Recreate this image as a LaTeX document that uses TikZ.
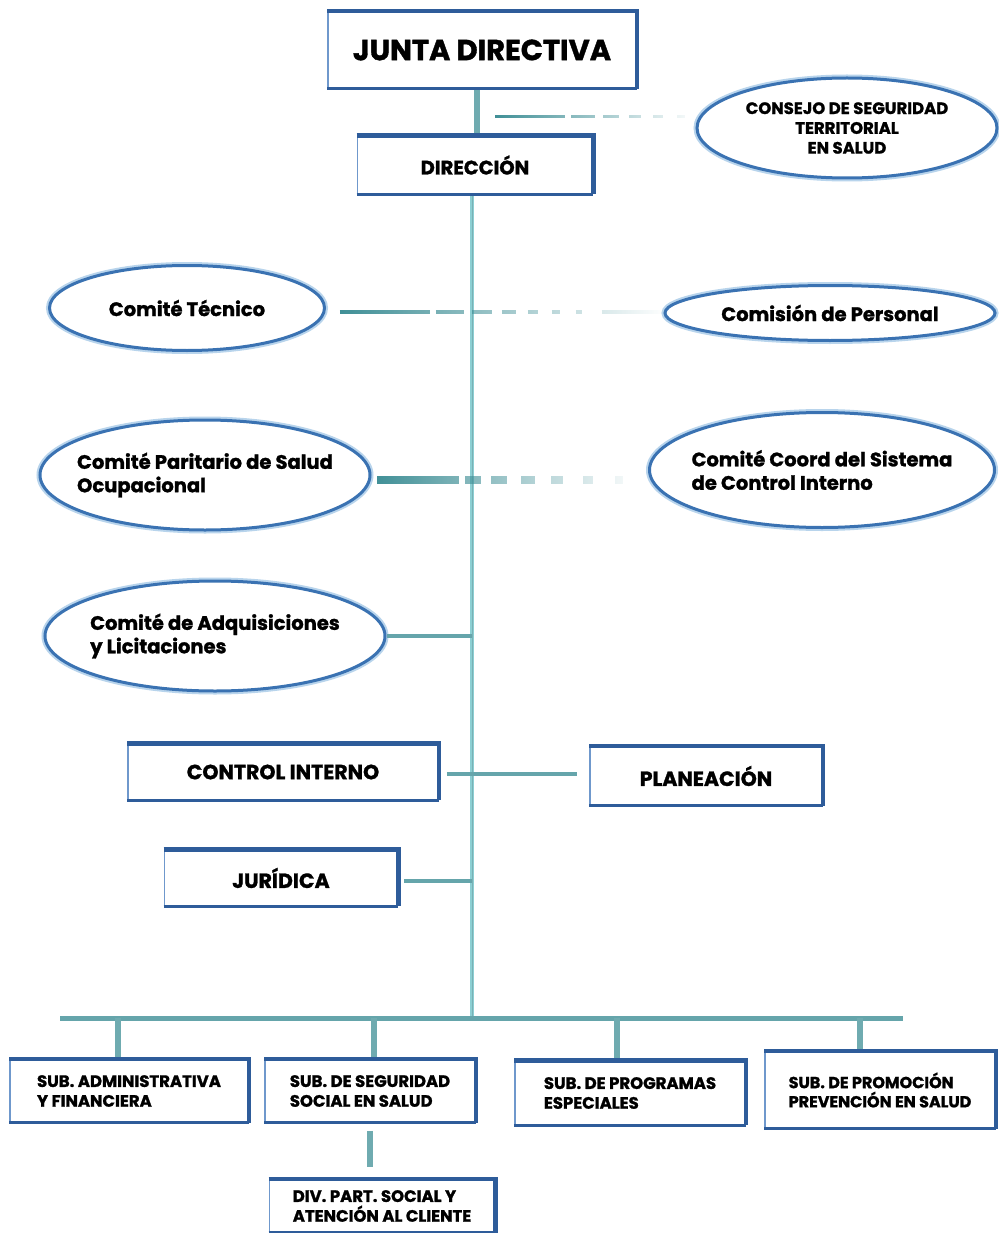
\documentclass[tikz,border=0pt]{standalone}
\usepackage{fontspec}
\setmainfont{Poppins}[BoldFeatures={FakeBold=1.3}]
\usetikzlibrary{shapes.geometric,fadings}
\definecolor{boxdark}{HTML}{2E5C9A}
\definecolor{boxlight}{HTML}{6F98CC}
\definecolor{ellblue}{HTML}{3A72B2}
\definecolor{ellhalo}{HTML}{B8D4EC}
\definecolor{linkteal}{HTML}{3F8F96}
\definecolor{linklight}{HTML}{8CCFD3}
\tikzset{
  x=1pt, y=-1pt,
  orgbox/.style={rectangle, draw=boxlight, line width=1.6pt, fill=white,
    inner sep=0pt, align=center, text=black},
  boxedge/.style={draw=boxdark, line width=4.5pt, line join=miter},
  boxbase/.style={draw=boxdark, line width=3pt},
  orgell/.style={ellipse, draw=ellblue, line width=3pt, fill=white,
    inner sep=0pt, preaction={draw=ellhalo, line width=7pt}},
  elltext/.style={inner sep=0pt, text=black},
  txt/.style={font=\bfseries\fontsize{#1pt}{\dimexpr #1pt*6/5\relax}\selectfont},
  trunk/.style={draw=linklight, line width=4pt},
  trunkcore/.style={draw=linkteal!70, line width=1pt},
  branch/.style={draw=linkteal!80, line width=4pt},
  drop/.style={draw=linkteal!75, line width=6pt},
  advisory/.style={draw=linkteal, line width=3.5pt, path fading=east,
    dash pattern=on 90pt off 6pt on 28pt off 8pt on 20pt off 10pt on 14pt off 12pt on 10pt off 14pt on 8pt off 16pt on 6pt off 20pt},
  advisorybold/.style={draw=linkteal, line width=8pt, path fading=east,
    dash pattern=on 82pt off 6pt on 16pt off 10pt on 16pt off 14pt on 14pt off 16pt on 12pt off 20pt on 10pt off 22pt on 8pt off 24pt}
}
\begin{document}
\begin{tikzpicture}
\useasboundingbox[fill=white] (0,0) rectangle (998,1233);

% main vertical line of the chart
\coordinate (trunktop) at (472,192);
\coordinate (bus) at (472,1018);
\draw[trunk] (trunktop) -- (bus);
\draw[trunkcore] (trunktop) -- (bus);

% top of the chart
\node[orgbox, minimum width=308, minimum height=76, txt=29] (junta) at (482,50) {JUNTA DIRECTIVA};
\node[orgbox, minimum width=235, minimum height=57, txt=19.5] (dir) at (475,165) {DIRECCIÓN};
\draw[drop] (junta.south -| 477,0) -- (dir.north -| 477,0);

\node[orgell, minimum width=300, minimum height=100] (consejo) at (847,128) {};
\node[elltext, align=center, txt=16.5] (consejo-t) at (consejo) {CONSEJO DE SEGURIDAD\\TERRITORIAL\\EN SALUD};
\coordinate (jdlink) at (495,117);
\draw[advisory, line width=3pt, dash pattern=on 70pt off 6pt on 24pt off 8pt on 16pt off 10pt on 12pt off 12pt on 10pt off 14pt on 8pt off 30pt]
  (jdlink) -- (jdlink -| consejo.west);

% committees
\node[orgell, minimum width=275, minimum height=85] (tec) at (187,308) {};
\node[elltext, txt=19.5] (tec-t) at (tec) {Comité Técnico};
\node[orgell, minimum width=330, minimum height=55] (comis) at (830,313) {};
\node[elltext, txt=19.5] (comis-t) at (comis) {Comisión de Personal};
\draw[advisory] ([xshift=14pt]tec.east |- 0,312) -- (comis.west |- 0,312);

\node[orgell, minimum width=330, minimum height=110] (parit) at (205,475) {};
\node[elltext, align=left, txt=19.5] (parit-t) at (parit) {Comité Paritario de Salud\\Ocupacional};
\node[orgell, minimum width=345, minimum height=115] (coord) at (822,470) {};
\node[elltext, align=left, txt=19.5] (coord-t) at (coord) {Comité Coord del Sistema\\de Control Interno};
\draw[advisorybold] ([xshift=6pt]parit.east |- 0,480) -- ([xshift=-12pt]coord.west |- 0,480);

\node[orgell, minimum width=340, minimum height=110] (adq) at (215,636) {};
\node[elltext, align=left, txt=19.5] (adq-t) at (adq) {Comité de Adquisiciones\\y Licitaciones};
\draw[branch] (adq.east) -- (adq.east -| bus);

% staff offices
\node[orgbox, minimum width=310, minimum height=55, txt=20.5] (ctrl) at (283,772) {CONTROL INTERNO};
\node[orgbox, minimum width=232, minimum height=58, txt=20.5] (plan) at (706,776) {PLANEACIÓN};
\draw[branch] ([xshift=8pt]ctrl.east |- 0,774) -- ([xshift=-12pt]plan.west |- 0,774);

\node[orgbox, minimum width=233, minimum height=55, txt=20.5] (jur) at (281,878) {JURÍDICA};
\draw[branch] ([xshift=6pt]jur.east |- 0,881) -- (bus |- 0,881);

% sub-directorates
\node[orgbox, minimum width=238, minimum height=62, align=left, txt=16.5] (subA) at (129,1091)
  {SUB. ADMINISTRATIVA\\Y FINANCIERA};
\node[orgbox, minimum width=210, minimum height=62, align=left, txt=16.5] (subS) at (370,1091)
  {SUB. DE SEGURIDAD\\SOCIAL EN SALUD};
\node[orgbox, minimum width=230, minimum height=63, align=left, txt=16.5] (subP) at (630,1093)
  {SUB. DE PROGRAMAS\\ESPECIALES};
\node[orgbox, minimum width=230, minimum height=76, align=left, txt=16] (subPr) at (880,1090)
  {SUB. DE PROMOCIÓN\\PREVENCIÓN EN SALUD};
\node[orgbox, minimum width=225, minimum height=52, align=left, txt=16.5] (div) at (382,1206)
  {DIV. PART. SOCIAL Y\\ATENCIÓN AL CLIENTE};

\coordinate (busW) at (60,1018);
\coordinate (busE) at (903,1018);
\draw[branch, line width=5pt] (busW) -- (busE);
\draw[drop] (bus -| 118,0) -- ([yshift=-2pt]subA.north -| 118,0);
\draw[drop] (bus -| 374,0) -- ([yshift=-2pt]subS.north -| 374,0);
\draw[drop] (bus -| 617,0) -- ([yshift=-2pt]subP.north -| 617,0);
\draw[drop] (bus -| 860,0) -- ([yshift=-2pt]subPr.north -| 860,0);
\draw[drop] ([yshift=-8pt]subS.south -| 370,0) -- ([yshift=12pt]div.north -| 370,0);

% heavier top, right and bottom edges of the boxes
\foreach \n in {junta,dir,ctrl,plan,jur,subA,subS,subP,subPr,div} {
  \draw[boxedge] (\n.north west) -- (\n.north east) -- (\n.south east);
  \draw[boxbase] (\n.south west) -- (\n.south east);
}
\end{tikzpicture}
\end{document}
